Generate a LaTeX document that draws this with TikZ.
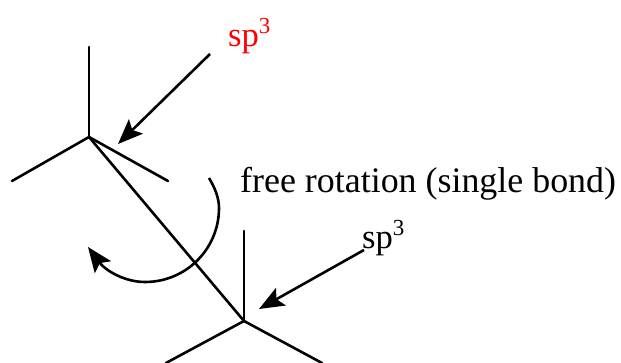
\documentclass[tikz,border=0pt]{standalone}
\usepackage{fontspec}
\setmainfont{Liberation Serif}
\usetikzlibrary{arrows.meta}
\newcommand{\supthree}{\raisebox{13pt}{\fontsize{23}{25}\selectfont 3}}
\begin{document}
\begin{tikzpicture}[x=1pt,y=-1pt,
  bond/.style={line width=2.6pt,line cap=round},
  arr/.style={line width=2.6pt,-{Stealth[length=25pt,width=20pt,inset=5pt]}},
  lab/.style={inner sep=0pt,font=\fontsize{34.6}{38}\selectfont},
  captext/.style={inner sep=0pt,font=\fontsize{35.9}{38}\selectfont}]
\useasboundingbox (0,0) rectangle (621,363);
\coordinate (c1) at (89,137);
\coordinate (c2) at (244,321);
\coordinate (a1) at (89,47);
\coordinate (a2) at (12,181);
\coordinate (a3) at (168,181);
\coordinate (b1) at (244,231);
\coordinate (b2) at (166,363);
\coordinate (b3) at (322,363);
\foreach \p in {a1,a2,a3,c2} \draw[bond] (c1) -- (\p);
\foreach \p in {b1,b2,b3} \draw[bond] (c2) -- (\p);
\node[lab,text=red,anchor=base west] (s1) at (228,47) {sp\supthree};
\node[lab,anchor=base west] (s2) at (362,249) {sp\supthree};
\node[captext,anchor=base west] (fr) at (240,193) {free rotation (single bond)};
\coordinate (s1e) at (210,54);
\coordinate (s2e) at (364,250);
\draw[arr] (s1e) -- (118,144);
\draw[arr] (s2e) -- (259,309);
\coordinate (rs) at (209,178);
\coordinate (re) at (88,247);
\draw[arr] (rs) .. controls (215,188) and (219,198) .. (219,208) .. controls (219,249) and (186,282) .. (145,282) .. controls (124,282) and (105,270) .. (re);
\end{tikzpicture}
\end{document}
